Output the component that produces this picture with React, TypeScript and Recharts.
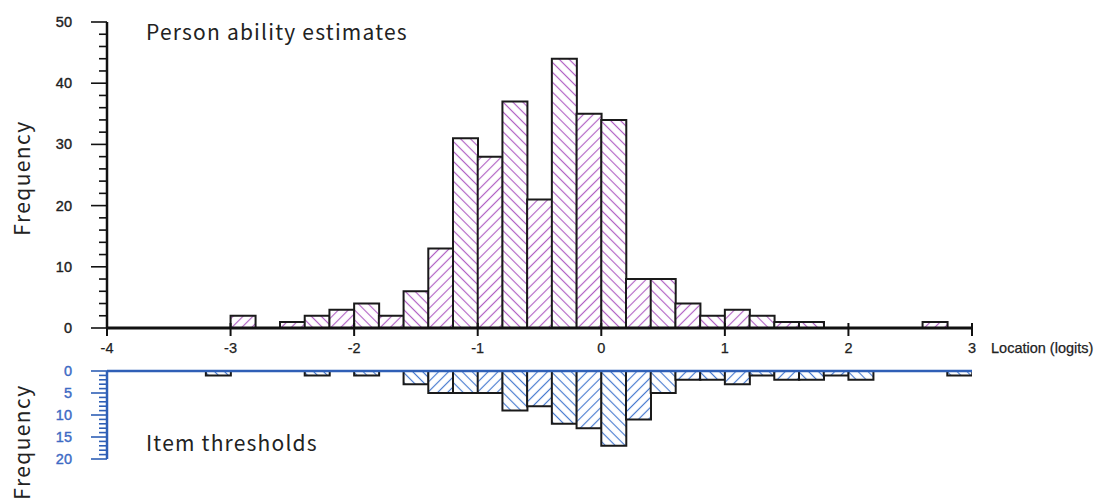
import { BarChart, Bar, XAxis, YAxis, Cell, ReferenceLine } from "recharts";

// centre of each 0.2-logit bin, from -4 to 3
const binCenters = [
  -3.9, -3.7, -3.5, -3.3, -3.1, -2.9, -2.7, -2.5, -2.3, -2.1, -1.9, -1.7,
  -1.5, -1.3, -1.1, -0.9, -0.7, -0.5, -0.3, -0.1, 0.1, 0.3, 0.5, 0.7, 0.9,
  1.1, 1.3, 1.5, 1.7, 1.9, 2.1, 2.3, 2.5, 2.7, 2.9,
];
const personCounts = [
  0, 0, 0, 0, 0, 2, 0, 1, 2, 3, 4, 2, 6, 13, 31, 28, 37, 21, 44, 35, 34, 8,
  8, 4, 2, 3, 2, 1, 1, 0, 0, 0, 0, 1, 0,
];
const itemCounts = [
  0, 0, 0, 0, 1, 0, 0, 0, 1, 0, 1, 0, 3, 5, 5, 5, 9, 8, 12, 13, 17, 11, 5,
  2, 2, 3, 1, 2, 2, 1, 2, 0, 0, 0, 1,
];
const locationTicks = [-4, -3, -2, -1, 0, 1, 2, 3];
const personTicks = [
  0, 2, 4, 6, 8, 10, 12, 14, 16, 18, 20, 22, 24, 26, 28, 30, 32, 34, 36, 38,
  40, 42, 44, 46, 48, 50,
];
const itemTicks = [
  0, 1, 2, 3, 4, 5, 6, 7, 8, 9, 10, 11, 12, 13, 14, 15, 16, 17, 18, 19, 20,
];

const rows = binCenters.map((m, i) => ({
  mid: m,
  persons: personCounts[i],
  items: itemCounts[i],
}));

const JP = '"Noto Sans CJK JP", "Noto Sans", sans-serif';
const ARIAL = '"Liberation Sans", Arial, sans-serif';
const INK = "#222";
const PURPLE = "#b060c4";
const BLUE_HATCH = "#4679cf";
const BLUE = "#2f5fb6";

const hatch = (id: string, color: string, angle: number) => (
  <pattern
    id={id}
    width={7}
    height={7}
    patternUnits="userSpaceOnUse"
    patternTransform={`rotate(${angle})`}
  >
    <rect width={7} height={7} fill="#fff" />
    <line x1={3.5} y1={0} x2={3.5} y2={7} stroke={color} strokeWidth={1.15} />
  </pattern>
);

function makeYTick(step: number, color: string, textColor: string) {
  return function YTick(props: any) {
    const { x, y, payload } = props;
    const major = payload.value % step === 0;
    return (
      <g>
        <line
          x1={x - (major ? 16 : 8)}
          x2={x}
          y1={y}
          y2={y}
          stroke={color}
          strokeWidth={1.6}
        />
        {major && (
          <text
            x={x - 35}
            y={y}
            dy={5}
            textAnchor="end"
            fontFamily={ARIAL}
            fontSize={14.5}
            fill={textColor}
            stroke={textColor}
            strokeWidth={0.4}
          >
            {payload.value}
          </text>
        )}
      </g>
    );
  };
}

const PersonTick = makeYTick(10, "#111", INK);
const ItemTick = makeYTick(5, BLUE, "#3d6ac4");

function LocTick(props: any) {
  const { x, y, payload } = props;
  return (
    <g>
      <line x1={x} x2={x} y1={y - 5} y2={y + 8} stroke="#111" strokeWidth={2} />
      <text
        x={x}
        y={y + 25}
        textAnchor="middle"
        fontFamily={ARIAL}
        fontSize={14.5}
        fill={INK}
        stroke={INK}
        strokeWidth={0.25}
      >
        {payload.value}
      </text>
    </g>
  );
}

export default function App() {
  return (
    <div
      style={{
        position: "absolute",
        left: 0,
        top: 0,
        width: 1102,
        height: 502,
        background: "#fff",
      }}
    >
      <div style={{ position: "absolute", left: 0, top: 0 }}>
        <BarChart
          width={1102}
          height={360}
          data={rows}
          margin={{ top: 22, right: 130, left: 8, bottom: 2 }}
          barCategoryGap={0}
          barGap={0}
        >
          <defs>
            {hatch("purpleBack", PURPLE, -45)}
            {hatch("purpleFwd", PURPLE, 45)}
          </defs>
          <XAxis
            dataKey="mid"
            type="number"
            domain={[-4, 3]}
            ticks={locationTicks}
            allowDataOverflow
            height={30}
            axisLine={{ stroke: "#111", strokeWidth: 3 }}
            tickLine={false}
            tickSize={0}
            tickMargin={0}
            tick={<LocTick />}
            interval={0}
            label={() => (
              <text
                x={991}
                y={353}
                fontFamily={ARIAL}
                fontSize={14.5}
                fill={INK}
                stroke={INK}
                strokeWidth={0.25}
              >
                Location (logits)
              </text>
            )}
          />
          <YAxis
            width={99}
            domain={[0, 50]}
            ticks={personTicks}
            interval={0}
            allowDataOverflow
            axisLine={{ stroke: "#111", strokeWidth: 2.5 }}
            tickLine={false}
            tickSize={0}
            tickMargin={0}
            tick={<PersonTick />}
            label={() => (
              <g>
                <text
                  x={30}
                  y={178}
                  transform="rotate(-90 30 178)"
                  textAnchor="middle"
                  fontFamily={JP}
                  fontSize={21}
                  letterSpacing={1.4}
                  fill={INK}
                >
                  Frequency
                </text>
                <text
                  x={146}
                  y={40}
                  fontFamily={JP}
                  fontSize={21}
                  letterSpacing={1.2}
                  fill={INK}
                >
                  Person ability estimates
                </text>
              </g>
            )}
          />
          <Bar
            dataKey="persons"
            stroke="#1a1a1a"
            strokeWidth={2}
            isAnimationActive={false}
          >
            {rows.map((_, i) => (
              <Cell
                key={i}
                fill={i % 2 === 0 ? "url(#purpleBack)" : "url(#purpleFwd)"}
              />
            ))}
          </Bar>
        </BarChart>
      </div>

      <div style={{ position: "absolute", left: 0, top: 350 }}>
        <BarChart
          width={1102}
          height={152}
          data={rows}
          margin={{ top: 21, right: 130, left: 8, bottom: 43 }}
          barCategoryGap={0}
          barGap={0}
        >
          <defs>
            {hatch("blueBack", BLUE_HATCH, -45)}
            {hatch("blueFwd", BLUE_HATCH, 45)}
          </defs>
          <XAxis
            dataKey="mid"
            type="number"
            domain={[-4, 3]}
            allowDataOverflow
            hide
          />
          <YAxis
            width={99}
            reversed
            domain={[0, 20]}
            ticks={itemTicks}
            interval={0}
            allowDataOverflow
            axisLine={{ stroke: BLUE, strokeWidth: 2.5 }}
            tickLine={false}
            tickSize={0}
            tickMargin={0}
            tick={<ItemTick />}
            label={() => (
              <g>
                <text
                  x={30}
                  y={92}
                  transform="rotate(-90 30 92)"
                  textAnchor="middle"
                  fontFamily={JP}
                  fontSize={21}
                  letterSpacing={1.4}
                  fill={INK}
                >
                  Frequency
                </text>
                <text
                  x={146}
                  y={101}
                  fontFamily={JP}
                  fontSize={21}
                  letterSpacing={1.2}
                  fill={INK}
                >
                  Item thresholds
                </text>
              </g>
            )}
          />
          <Bar
            dataKey="items"
            stroke="#1a1a1a"
            strokeWidth={2}
            isAnimationActive={false}
          >
            {rows.map((_, i) => (
              <Cell
                key={i}
                fill={i % 2 === 0 ? "url(#blueBack)" : "url(#blueFwd)"}
              />
            ))}
          </Bar>
          <ReferenceLine y={0} stroke={BLUE} strokeWidth={2.5} />
        </BarChart>
      </div>
    </div>
  );
}
